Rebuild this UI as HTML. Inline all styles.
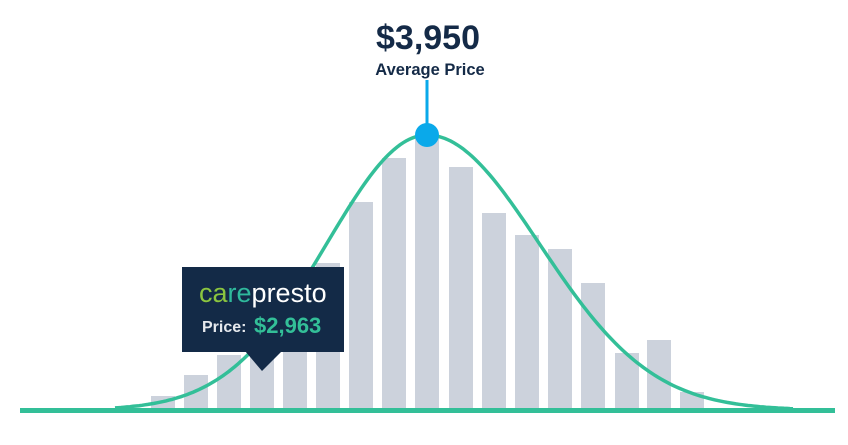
<!DOCTYPE html>
<html><head><meta charset="utf-8"><style>
html,body{margin:0;padding:0;background:#fff;}
svg{display:block}
</style></head><body>
<svg id="s" width="848" height="445" viewBox="0 0 848 445" xmlns="http://www.w3.org/2000/svg" font-family="Liberation Sans, sans-serif">
<g fill="#ccd2dc">
<rect x="151" y="396" width="24" height="14"/>
<rect x="184" y="375" width="24" height="35"/>
<rect x="217" y="355" width="24" height="55"/>
<rect x="250" y="322" width="24" height="88"/>
<rect x="283" y="292" width="24" height="118"/>
<rect x="316" y="263" width="24" height="147"/>
<rect x="349" y="202" width="24" height="208"/>
<rect x="382" y="158" width="24" height="252"/>
<rect x="415" y="137" width="24" height="273"/>
<rect x="449" y="167" width="24" height="243"/>
<rect x="482" y="213" width="24" height="197"/>
<rect x="515" y="235" width="24" height="175"/>
<rect x="548" y="249" width="24" height="161"/>
<rect x="581" y="283" width="24" height="127"/>
<rect x="615" y="353" width="24" height="57"/>
<rect x="647" y="340" width="24" height="70"/>
<rect x="680" y="392" width="24" height="18"/>
</g>
<path id="curve" fill="none" stroke="#33bf98" stroke-width="3.5"/>
<rect x="20" y="408" width="815" height="5" fill="#33bf98"/>
<line x1="427" y1="80" x2="427" y2="135" stroke="#0aa9ea" stroke-width="3"/>
<circle cx="427" cy="135" r="12" fill="#0aa9ea"/>
<text x="428" y="49" text-anchor="middle" font-size="34" font-weight="bold" fill="#142a47">$3,950</text>
<text x="430" y="75" text-anchor="middle" font-size="16.5" font-weight="bold" fill="#142a47">Average Price</text>
<rect x="182" y="267" width="162" height="85" fill="#132a47"/>
<polygon points="245,351 282,351 262,371" fill="#132a47"/>
<text x="199" y="302" font-size="27" fill="#fff"><tspan fill="#8bc53f">ca</tspan><tspan fill="#2fb99c">re</tspan>presto</text>
<text x="202" y="332" font-size="16" font-weight="bold" fill="#e6e9ee">Price:</text>
<text x="254" y="333" font-size="22" font-weight="bold" fill="#33bf98">$2,963</text>
</svg>
<script>
var d="";for(var x=115;x<=795;x+=3){var s=x<427?100:112;var y=410-275*Math.exp(-Math.pow((x-427)/s,2)/2);d+=(d?"L":"M")+x+","+y.toFixed(1);}
document.getElementById("curve").setAttribute("d",d);
</script>
</body></html>
